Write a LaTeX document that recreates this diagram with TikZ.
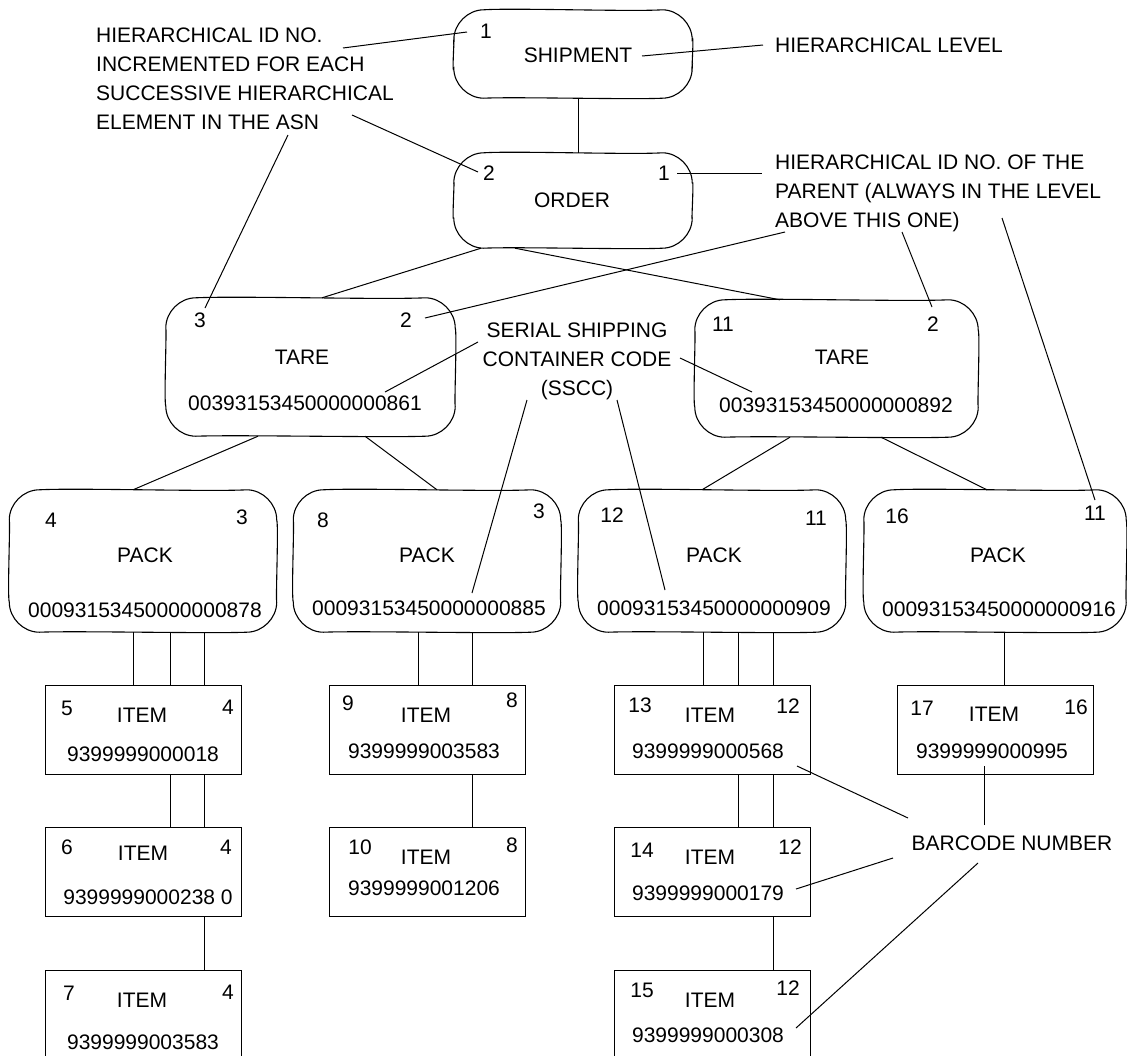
\documentclass[tikz,border=0pt]{standalone}
\usepackage{fontspec}
\setmainfont{Liberation Sans}
\usetikzlibrary{calc}
\tikzstyle{hlbox}=[rectangle,inner sep=0pt]
\tikzstyle{packbox}=[hlbox,minimum width=267pt,minimum height=142pt]
\tikzstyle{itembox}=[rectangle,draw=black,line width=1pt,inner sep=0pt,
  minimum width=196pt,minimum height=89pt]
\tikzstyle{txt}=[inner sep=0pt,font=\fontsize{21}{29}\selectfont]
\tikzstyle{note}=[txt,align=left]
\tikzstyle{lead}=[line width=1pt]
\tikzstyle{none}=[]
% hand drawn outline round a level node
\newcommand\wavyoutline[1]{%
  \draw [line width=1.1pt]
    ($(#1.north west)+(0,30)$)
    .. controls ($(#1.north west)+(0,14)$) and ($(#1.north west)+(14,0)$) .. ($(#1.north west)+(30,0)$)
    .. controls ($(#1.north west)!.5!(#1.north)+(0,-2)$) and ($(#1.north)!.5!(#1.north east)+(0,2)$) .. ($(#1.north east)+(-30,0)$)
    .. controls ($(#1.north east)+(-14,0)$) and ($(#1.north east)+(0,14)$) .. ($(#1.north east)+(0,30)$)
    .. controls ($(#1.north east)!.5!(#1.east)+(2,0)$) and ($(#1.east)!.5!(#1.south east)+(-1,0)$) .. ($(#1.south east)+(0,-30)$)
    .. controls ($(#1.south east)+(0,-14)$) and ($(#1.south east)+(-14,0)$) .. ($(#1.south east)+(-30,0)$)
    .. controls ($(#1.south east)!.5!(#1.south)+(0,1.5)$) and ($(#1.south)!.5!(#1.south west)+(0,-1.5)$) .. ($(#1.south west)+(30,0)$)
    .. controls ($(#1.south west)+(14,0)$) and ($(#1.south west)+(0,-14)$) .. ($(#1.south west)+(0,-30)$)
    .. controls ($(#1.south west)!.5!(#1.west)+(-2,0)$) and ($(#1.west)!.5!(#1.north west)+(1,0)$) .. cycle;}
\begin{document}
\begin{tikzpicture}[x=1pt,y=-1pt]
            \useasboundingbox (0,0) rectangle (1127,1055);
            \clip (0,0) rectangle (1127,1055);
            % levels
            \node [style=hlbox,minimum width=238pt,minimum height=88pt] (ship) at (573,54) {};
            \node [style=hlbox,minimum width=238pt,minimum height=95pt] (order) at (573,200.5) {};
            \node [style=hlbox,minimum width=289pt,minimum height=138pt] (tareL) at (310.5,367) {};
            \node [style=hlbox,minimum width=283pt,minimum height=137pt] (tareR) at (836.5,368.5) {};
            \node [style=packbox] (pack1) at (143,561) {};
            \node [style=packbox] (pack2) at (427,561) {};
            \node [style=packbox] (pack3) at (712,561) {};
            \node [style=packbox,minimum width=262pt] (pack4) at (995,561) {};
            \foreach \n in {ship,order,tareL,tareR,pack1,pack2,pack3,pack4}
              \wavyoutline{\n};
            \node [style=itembox] (it5) at (143,729.5) {};
            \node [style=itembox] (it6) at (143,872) {};
            \node [style=itembox] (it7) at (143,1014.5) {};
            \node [style=itembox] (it9) at (427,729.5) {};
            \node [style=itembox] (it10) at (427,872) {};
            \node [style=itembox] (it13) at (712,729.5) {};
            \node [style=itembox] (it14) at (712,872) {};
            \node [style=itembox] (it15) at (712,1014.5) {};
            \node [style=itembox] (it17) at (995,729.5) {};
            % texts in the levels
            \node [style=txt] (s1) at (486,31) {1};
            \node [style=txt] (shipt) at (578,55) {SHIPMENT};
            \node [style=txt] (o2) at (489,173) {2};
            \node [style=txt] (o1) at (664,173) {1};
            \node [style=txt] (ordert) at (572,200) {ORDER};
            \node [style=txt] (tl3) at (200,320) {3};
            \node [style=txt] (tl2) at (406,320) {2};
            \node [style=txt] (tlt) at (302,357) {TARE};
            \node [style=txt] (tlno) at (305,403) {00393153450000000861};
            \node [style=txt] (tr11) at (723,324) {11};
            \node [style=txt] (tr2) at (933,324) {2};
            \node [style=txt] (trt) at (842,357) {TARE};
            \node [style=txt] (trno) at (836,405) {00393153450000000892};
            \node [style=txt] (p1a) at (51,520) {4};
            \node [style=txt] (p1b) at (242,517) {3};
            \node [style=txt] (p1t) at (145,555) {PACK};
            \node [style=txt] (p1no) at (145,610) {00093153450000000878};
            \node [style=txt] (p2a) at (323,520) {8};
            \node [style=txt] (p2b) at (539,511) {3};
            \node [style=txt] (p2t) at (427,555) {PACK};
            \node [style=txt] (p2no) at (429,608) {00093153450000000885};
            \node [style=txt] (p3a) at (612,515) {12};
            \node [style=txt] (p3b) at (816,518) {11};
            \node [style=txt] (p3t) at (714,555) {PACK};
            \node [style=txt] (p3no) at (714,608) {00093153450000000909};
            \node [style=txt] (p4a) at (897,516) {16};
            \node [style=txt] (p4b) at (1095,513) {11};
            \node [style=txt] (p4t) at (998,555) {PACK};
            \node [style=txt] (p4no) at (999,609) {00093153450000000916};
            \node [style=txt] (i5a) at (67,708) {5};
            \node [style=txt] (i5b) at (228,707) {4};
            \node [style=txt] (i5t) at (142,715) {ITEM};
            \node [style=txt] (i5no) at (143,754) {9399999000018};
            \node [style=txt] (i6a) at (67,847) {6};
            \node [style=txt] (i6b) at (226,847) {4};
            \node [style=txt] (i6t) at (143,853) {ITEM};
            \node [style=txt] (i6no) at (148,897) {9399999000238 0};
            \node [style=txt] (i7a) at (69,993) {7};
            \node [style=txt] (i7b) at (228,992) {4};
            \node [style=txt] (i7t) at (142,1000) {ITEM};
            \node [style=txt] (i7no) at (143,1042) {9399999003583};
            \node [style=txt] (i9a) at (348,703) {9};
            \node [style=txt] (i9b) at (512,700) {8};
            \node [style=txt] (i9t) at (426,715) {ITEM};
            \node [style=txt] (i9no) at (424,751) {9399999003583};
            \node [style=txt] (i10a) at (360,847) {10};
            \node [style=txt] (i10b) at (512,845) {8};
            \node [style=txt] (i10t) at (426,857) {ITEM};
            \node [style=txt] (i10no) at (424,888) {9399999001206};
            \node [style=txt] (i13a) at (640,705) {13};
            \node [style=txt] (i13b) at (788,706) {12};
            \node [style=txt] (i13t) at (710,715) {ITEM};
            \node [style=txt] (i13no) at (708,751) {9399999000568};
            \node [style=txt] (i14a) at (642,850) {14};
            \node [style=txt] (i14b) at (790,847) {12};
            \node [style=txt] (i14t) at (710,857) {ITEM};
            \node [style=txt] (i14no) at (708,893) {9399999000179};
            \node [style=txt] (i15a) at (642,990) {15};
            \node [style=txt] (i15b) at (788,988) {12};
            \node [style=txt] (i15t) at (710,1000) {ITEM};
            \node [style=txt] (i15no) at (708,1035) {9399999000308};
            \node [style=txt] (i17a) at (922,708) {17};
            \node [style=txt] (i17b) at (1076,707) {16};
            \node [style=txt] (i17t) at (994,714) {ITEM};
            \node [style=txt] (i17no) at (992,751) {9399999000995};
            % notes
            \node [style=note,anchor=west] (asn) at (96,78.5) {HIERARCHICAL ID NO.\\INCREMENTED FOR EACH\\SUCCESSIVE HIERARCHICAL\\ELEMENT IN THE ASN};
            \node [style=txt,anchor=west] (level) at (775,45) {HIERARCHICAL LEVEL};
            \node [style=note,anchor=north west] (parent) at (775,154.5) {HIERARCHICAL ID NO. OF THE\\PARENT (ALWAYS IN THE LEVEL\\ABOVE THIS ONE)};
            \node [style=txt,align=center] (sscc) at (577,361) {SERIAL SHIPPING\\CONTAINER CODE\\(SSCC)};
            \node [style=txt] (barcode) at (1012,843) {BARCODE NUMBER};
            \coordinate (asnA) at (343,48);
            \coordinate (asnB) at (352,115);
            \coordinate (asnC) at (288,135);
            \coordinate (levelA) at (763,45);
            \coordinate (parA) at (762,173);
            \coordinate (parB) at (785,232);
            \coordinate (parC) at (902,232);
            \coordinate (parD) at (1002,218);
            \coordinate (ssccA) at (478,342);
            \coordinate (ssccB) at (680,358);
            \coordinate (ssccC) at (527,400);
            \coordinate (ssccD) at (617,400);
            \coordinate (barA) at (908,818);
            \coordinate (barB) at (893,858);
            \coordinate (barC) at (978,863);
            \coordinate (barD) at (984,825);
            % tree
            \draw [style=lead] ([xshift=5pt]ship.south) to ([xshift=5pt]order.north);
            \draw [style=lead] ([xshift=-92pt]order.south) to ([xshift=11.5pt]tareL.north);
            \draw [style=lead] ([xshift=-58pt]order.south) to ([xshift=-56.5pt]tareR.north);
            \draw [style=lead] ([xshift=-52.5pt]tareL.south) to ([xshift=-10pt]pack1.north);
            \draw [style=lead] ([xshift=54.5pt]tareL.south) to ([xshift=10pt]pack2.north);
            \draw [style=lead] ([xshift=-46.5pt]tareR.south) to ([xshift=-10pt]pack3.north);
            \draw [style=lead] ([xshift=44.5pt]tareR.south) to ([xshift=-8pt]pack4.north);
            \foreach \dx in {-10,27,61}
              \draw [style=lead] ([xshift=\dx pt]pack1.south) to ([xshift=\dx pt]it5.north);
            \foreach \dx in {27,61}
              \draw [style=lead] ([xshift=\dx pt]it5.south) to ([xshift=\dx pt]it6.north);
            \draw [style=lead] ([xshift=61pt]it6.south) to ([xshift=61pt]it7.north);
            \foreach \dx in {-9,45}
              \draw [style=lead] ([xshift=\dx pt]pack2.south) to ([xshift=\dx pt]it9.north);
            \draw [style=lead] ([xshift=45pt]it9.south) to ([xshift=45pt]it10.north);
            \foreach \dx in {-9,26,61}
              \draw [style=lead] ([xshift=\dx pt]pack3.south) to ([xshift=\dx pt]it13.north);
            \foreach \dx in {26,61}
              \draw [style=lead] ([xshift=\dx pt]it13.south) to ([xshift=\dx pt]it14.north);
            \draw [style=lead] ([xshift=61pt]it14.south) to ([xshift=61pt]it15.north);
            \draw [style=lead] ([xshift=9pt]pack4.south) to ([xshift=9pt]it17.north);
            % leaders
            \draw [style=lead] (asnA) to ($(s1)+(-19,1)$);
            \draw [style=lead] (asnB) to ($(o2)+(-11,-1)$);
            \draw [style=lead] (asnC) to ($(tl3)+(5,-12)$);
            \draw [style=lead] ($(shipt)+(64,1)$) to (levelA);
            \draw [style=lead] ($(o1)+(13,0)$) to (parA);
            \draw [style=lead] (parB) to ($(tl2)+(19,-2)$);
            \draw [style=lead] (parC) to ($(tr2)+(-1,-17)$);
            \draw [style=lead] (parD) to ($(p4b)+(0,-13)$);
            \draw [style=lead] (ssccA) to ($(tlno)+(80,-11)$);
            \draw [style=lead] (ssccB) to ($(trno)+(-84,-13)$);
            \draw [style=lead] (ssccC) to ($(p2no)+(43,-15)$);
            \draw [style=lead] (ssccD) to ($(p3no)+(-49,-18)$);
            \draw [style=lead] (barA) to ($(i13no)+(89,15)$);
            \draw [style=lead] (barB) to ($(i14no)+(88,-4)$);
            \draw [style=lead] (barC) to ($(i15no)+(88,-7)$);
            \draw [style=lead] (barD) to ($(i17no)+(-8,15)$);
    \end{tikzpicture}
\end{document}
